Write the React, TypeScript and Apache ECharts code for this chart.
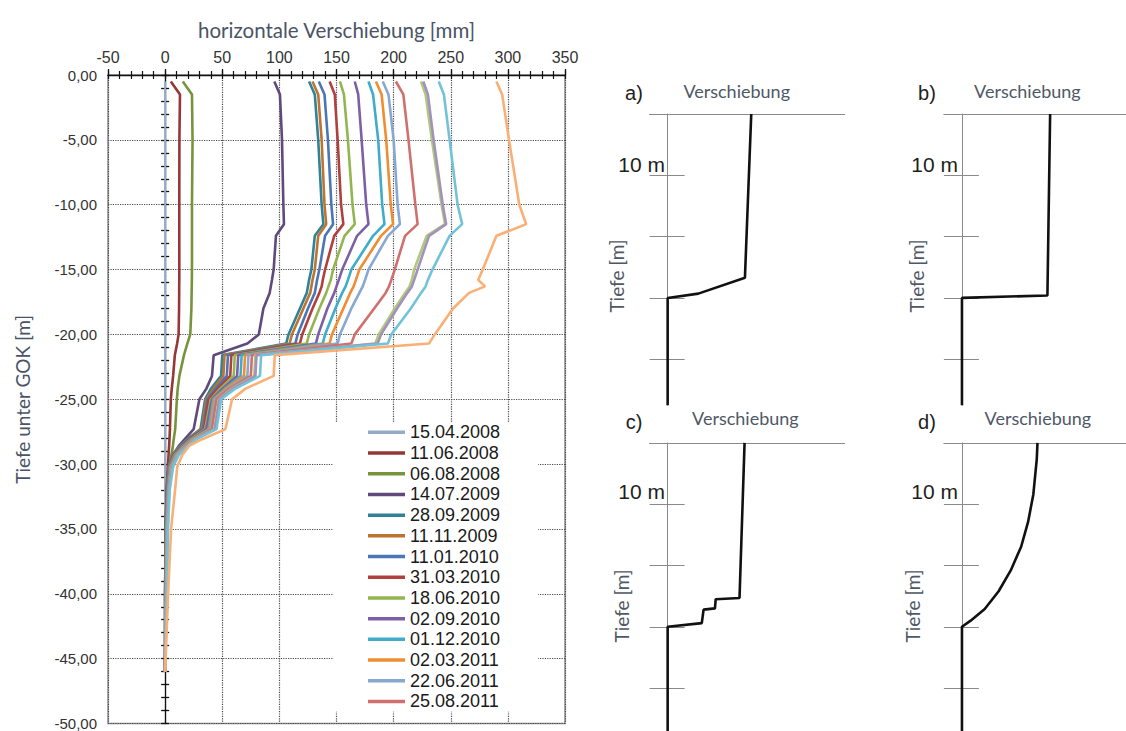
import React, { useEffect, useRef } from "react";
import * as echarts from "echarts";

// ---------- main chart data (depth in m below GOK, displacement in mm) ----------
const DEPTHS = [0.5, 1.5, 5, 10, 11.5, 12.4, 15, 15.8, 16.3, 16.8, 18, 20, 20.7, 21.6, 23.2, 24.2, 25, 27.3, 28.1, 28.6, 29.3, 30.2, 32, 35, 40, 46];

const LEGEND_DATES = ["15.04.2008", "11.06.2008", "06.08.2008", "14.07.2009", "28.09.2009", "11.11.2009", "11.01.2010", "31.03.2010", "18.06.2010", "02.09.2010", "01.12.2010", "02.03.2011", "22.06.2011", "25.08.2011"];
const EXTRA_NAMES = ["Messung 15", "Messung 16", "Messung 17", "Messung 18"];

const S_15_04_2008 = [0, 0, 0, 0, 0, 0, 0, 0, 0, 0, 0, 0, 0, 0, 0, 0, 0, 0, 0, 0, 0, 0, 0, 0, 0, 0];
const S_11_06_2008 = [5, 13, 12.5, 12.4, 12.4, 12.4, 12.4, 12.4, 12.3, 12.3, 12.2, 11.8, 10.5, 8.5, 7, 5.8, 5, 4.2, 3.8, 3.5, 3, 2.4, 1.3, 0.4, 0, 0];
const S_06_08_2008 = [15.5, 23.5, 24, 23.5, 23.5, 23.5, 23.5, 23.4, 23.3, 23.2, 23, 22, 19.5, 16.5, 12.5, 11, 10.3, 8.8, 7.5, 6.8, 5.5, 4.4, 2.5, 0.8, 0, 0];
const S_14_07_2009 = [95.6, 100.5, 102.3, 103.5, 104, 97, 95, 93.5, 92.5, 91.5, 86, 82, 72, 42.5, 41, 36, 30, 25, 17, 12, 7, 3.5, 1.5, 0.5, 0, 0];
const S_28_09_2009 = [126, 131, 134, 137, 138.5, 131, 128, 126, 125, 124, 118, 108, 106, 50, 49, 40, 35, 31, 19, 13, 6, 3, 1.5, 0.6, 0.2, 0];
const S_11_11_2009 = [129, 134, 137, 139.5, 141, 134, 131, 129, 128, 127, 121, 111, 109, 52, 51, 42, 36, 32, 19.5, 13.5, 6.5, 3.2, 1.6, 0.7, 0.2, 0];
const S_11_01_2010 = [134.5, 139.5, 142.5, 145.5, 147, 140, 135, 133, 132, 131, 125, 116, 114, 55, 54, 44, 37, 33, 20, 14, 7, 3.5, 1.8, 0.8, 0.3, 0];
const S_31_03_2010 = [144, 148.5, 151, 154, 156, 148, 140, 138, 137, 135, 129, 120, 118, 58, 57, 46, 38, 34, 21, 15, 7.5, 3.8, 2, 0.9, 0.4, 0];
const S_18_06_2010 = [153, 156.5, 160, 164, 166, 157, 147, 145, 143, 141, 135, 126, 124, 61, 60, 48, 40, 35, 22, 15.5, 8, 4, 2.2, 1, 0.5, 0];
const S_02_09_2010 = [166, 169, 172, 176, 178, 168, 155, 152, 150, 148, 142, 134, 132, 64, 63, 50, 41, 36, 23, 16, 8.5, 4.3, 2.4, 1.2, 0.6, 0];
const S_01_12_2010 = [178, 182, 186.5, 190, 192, 182, 163, 160, 158, 155, 149, 140, 138, 67, 66, 52, 42, 38, 23.5, 16.5, 9, 4.6, 2.6, 1.3, 0.7, 0];
const S_02_03_2011 = [184.5, 189.5, 193.5, 197.5, 199.5, 189, 170, 167, 165, 162, 156, 146, 144, 70, 69, 53, 43, 39, 24, 17, 9.5, 5, 2.8, 1.5, 0.8, 0];
const S_22_06_2011 = [190.5, 195.5, 200, 203.5, 205.5, 195, 178, 175, 173, 170, 163, 153, 151, 73, 72, 55, 44, 40, 25, 17.5, 10, 5.3, 3, 1.6, 0.9, 0];
const S_25_08_2011 = [202, 208.5, 213, 219, 221, 210, 201, 198, 196, 193, 183, 166, 163, 76, 75, 56, 45, 41, 25.5, 18, 10.5, 5.6, 3.2, 1.8, 1, 0];
const S_EXTRA_15 = [224, 228, 233.5, 242, 245, 229, 218, 216, 214, 210, 201, 187, 184, 79, 78, 58, 47, 43, 26, 19, 11, 6, 3.5, 2, 1.1, 0];
const S_EXTRA_16 = [226, 230, 235, 243, 246, 231, 221, 218, 216, 212, 203, 189, 186, 80, 79, 59, 47.5, 43.5, 26.5, 19, 11.5, 6.2, 3.6, 2.1, 1.2, 0];
const S_EXTRA_17 = [239.5, 244, 249, 256, 260, 249, 234, 230, 228, 224, 215, 198, 195, 84, 83, 61, 49, 45, 27, 20, 12, 7, 4, 2.5, 1.5, 0];
const S_EXTRA_18 = [290, 295, 301, 310, 316, 290, 278, 274, 280, 266, 252, 236, 231, 96, 95, 70, 58.6, 52.8, 32, 21, 15, 10.6, 8.7, 5.2, 2.6, 0];

const SERIES_VALUES = [
  S_15_04_2008, S_11_06_2008, S_06_08_2008, S_14_07_2009, S_28_09_2009, S_11_11_2009, S_11_01_2010,
  S_31_03_2010, S_18_06_2010, S_02_09_2010, S_01_12_2010, S_02_03_2011, S_22_06_2011, S_25_08_2011,
  S_EXTRA_15, S_EXTRA_16, S_EXTRA_17, S_EXTRA_18,
];
const SERIES_COLORS = [
  "#94AAC6", "#953735", "#77933C", "#5F4A7B", "#2F8299", "#BE7430", "#4A76B5", "#B0403E", "#93B550",
  "#7D60A3", "#3FADC9", "#F08C32", "#86A8D2", "#D0706E", "#AFC97A", "#A390BD", "#72C3D8", "#F9AF76",
];

// ---------- schematic panels: [displacement, depth] ----------
const SCHEME_A = [[46.3, 0], [42.8, 26.7], [17, 29.3], [0, 30], [0, 47.5]];
const SCHEME_B = [[48.8, 0], [47.3, 29.6], [0, 30], [0, 47.5]];
const SCHEME_C = [[42.6, 0], [39.8, 25.3], [26.6, 25.5], [26.2, 27], [19.9, 27.2], [18.9, 29.4], [0, 30], [0, 47]];
const SCHEME_D = [[41.8, 0], [41.4, 2.7], [39.5, 8.4], [36.6, 12.9], [32.8, 16.9], [27, 20.8], [20.3, 24.2], [12.6, 27.1], [4.8, 29], [0, 30], [0, 47]];
const SCHEME_TICKS = [0, 10, 20, 30, 40];
const PANEL_LETTERS = ["a)", "b)", "c)", "d)"];

const SANS = "'Liberation Sans', Arial, sans-serif";
const NARROW = "'Liberation Sans Narrow', 'Arial Narrow', 'Liberation Sans', sans-serif";
const SOFT = "Lato, 'Open Sans', sans-serif";
const TITLE_COLOR = "#4A5466";
const AX_GRAY = "#8a8a8a";

function buildOption() {
  const panels = [
    { grid: { left: 649.6, top: 114, width: 195, height: 291.2 }, xmax: 98, ymax: 47.5, data: SCHEME_A,
      letter: [634, 93], verb: [736.7, 90.6], ten: [665, 164.5], tiefe: [616.6, 276] },
    { grid: { left: 943.9, top: 114, width: 182.1, height: 291.2 }, xmax: 90.8, ymax: 47.5, data: SCHEME_B,
      letter: [927, 93], verb: [1027.4, 90.6], ten: [958, 164.5], tiefe: [916, 276] },
    { grid: { left: 649.6, top: 442.9, width: 195, height: 288.1 }, xmax: 98, ymax: 47, data: SCHEME_C,
      letter: [634, 422], verb: [745.4, 417.9], ten: [665, 491.7], tiefe: [621.8, 605.9] },
    { grid: { left: 943.9, top: 442.9, width: 182.1, height: 288.1 }, xmax: 90.8, ymax: 47, data: SCHEME_D,
      letter: [927, 422], verb: [1037.9, 417.9], ten: [958, 491.7], tiefe: [912.5, 605.9] },
  ];

  const grid: any[] = [
    { left: 108, top: 75, width: 457, height: 652, show: true, borderColor: "#8f8f8f", borderWidth: 1.5, backgroundColor: "transparent" },
    ...panels.map((p) => ({ ...p.grid })),
  ];

  const xAxis: any[] = [
    {
      type: "value", gridIndex: 0, position: "top", min: -50, max: 350, interval: 50,
      name: "horizontale Verschiebung [mm]", nameLocation: "middle", nameGap: 35,
      nameTextStyle: { fontFamily: SOFT, fontSize: 20.5, color: TITLE_COLOR },
      axisLine: { show: true, onZero: false, lineStyle: { color: "#111", width: 1.3 } },
      axisTick: { show: true, length: 6, lineStyle: { color: "#111", width: 1.3 } },
      axisLabel: { show: true, margin: 10, fontFamily: NARROW, fontSize: 16, color: "#333" },
      splitLine: { show: true, lineStyle: { color: "#4a4a4a", type: "dotted", width: 1.2 } },
    },
    {
      type: "value", gridIndex: 0, position: "top", min: -50, max: 350, interval: 10,
      axisLine: { show: false, onZero: false }, axisLabel: { show: false }, splitLine: { show: false },
      axisTick: { show: true, length: 4, lineStyle: { color: "#111", width: 1.2 } },
    },
    {
      type: "value", gridIndex: 0, position: "top", min: -50, max: 350, interval: 10,
      axisLine: { show: false, onZero: false }, axisLabel: { show: false }, splitLine: { show: false },
      axisTick: { show: true, inside: true, length: 4, lineStyle: { color: "#111", width: 1.2 } },
    },
    ...panels.map((p, k) => ({
      type: "value", gridIndex: k + 1, position: "top", min: -10, max: p.xmax,
      axisLine: { show: true, onZero: false, lineStyle: { color: AX_GRAY, width: 1 } },
      axisTick: { show: false }, axisLabel: { show: false }, splitLine: { show: false },
    })),
  ];

  const yAxis: any[] = [
    {
      type: "value", gridIndex: 0, position: "left", min: -50, max: 0, interval: 5,
      name: "Tiefe unter GOK [m]", nameLocation: "middle", nameRotate: 90, nameGap: 76,
      nameTextStyle: { fontFamily: SOFT, fontSize: 19, color: TITLE_COLOR },
      axisLine: { show: false, onZero: false }, axisTick: { show: false },
      axisLabel: { show: true, margin: 11, fontFamily: NARROW, fontSize: 15, color: "#333",
        formatter: (v: number) => (Math.abs(v) < 1e-9 ? 0 : v).toFixed(2).replace(".", ",") },
      splitLine: { show: true, lineStyle: { color: "#4a4a4a", type: "dotted", width: 1.2 } },
    },
    {
      type: "value", gridIndex: 0, min: -50, max: 0, interval: 1,
      axisLine: { show: true, onZero: true, onZeroAxisIndex: 0, lineStyle: { color: "#111", width: 1.3 } },
      axisTick: { show: true, length: 4, lineStyle: { color: "#111", width: 1.3 } },
      axisLabel: { show: false }, splitLine: { show: false },
    },
    {
      type: "value", gridIndex: 0, min: -50, max: 0, interval: 1,
      axisLine: { show: false, onZero: true, onZeroAxisIndex: 0 },
      axisTick: { show: true, inside: true, length: 4, lineStyle: { color: "#111", width: 1.3 } },
      axisLabel: { show: false }, splitLine: { show: false },
    },
    ...panels.map((p, k) => ({
      type: "value", gridIndex: k + 1, inverse: true, min: 0, max: p.ymax,
      axisLine: { show: true, onZero: true, onZeroAxisIndex: 3 + k, lineStyle: { color: AX_GRAY, width: 1 } },
      axisTick: { show: false }, axisLabel: { show: false }, splitLine: { show: false },
    })),
    ...panels.map((p, k) => ({
      type: "value", gridIndex: k + 1, inverse: true, min: 0, max: p.ymax, position: "left",
      axisLine: { show: false, onZero: false },
      axisTick: { show: true, inside: true, length: 35, customValues: SCHEME_TICKS, lineStyle: { color: AX_GRAY, width: 1.2 } },
      axisLabel: { show: false }, splitLine: { show: false },
    })),
  ];

  const allNames = [...LEGEND_DATES, ...EXTRA_NAMES];
  const mainSeries = SERIES_VALUES.map((vals, i) => ({
    type: "line",
    name: allNames[i],
    xAxisIndex: 0,
    yAxisIndex: 0,
    data: DEPTHS.map((d, j) => [vals[j], -d]),
    symbol: "none",
    showSymbol: false,
    color: SERIES_COLORS[i],
    lineStyle: { color: SERIES_COLORS[i], width: i === 0 ? 2 : 2.6 },
    z: 3,
  }));

  const schemeSeries = panels.map((p, k) => ({
    type: "line",
    name: "Schema " + PANEL_LETTERS[k],
    xAxisIndex: 3 + k,
    yAxisIndex: 3 + k,
    data: p.data,
    symbol: "none",
    showSymbol: false,
    clip: false,
    lineStyle: { color: "#111", width: 2.6 },
    color: "#111",
    z: 3,
  }));

  const graphic: any[] = [];
  panels.forEach((p, k) => {
    graphic.push({ type: "text", x: p.letter[0], y: p.letter[1], style: { text: PANEL_LETTERS[k], fontFamily: SANS, fontSize: 20, fill: "#1e1e1e", align: "center", verticalAlign: "middle" } });
    graphic.push({ type: "text", x: p.verb[0], y: p.verb[1], style: { text: "Verschiebung", fontFamily: SOFT, fontSize: 18, fill: "#4f5866", align: "center", verticalAlign: "middle" } });
    graphic.push({ type: "text", x: p.ten[0], y: p.ten[1], style: { text: "10 m", fontFamily: SANS, fontSize: 21, fill: "#1e1e1e", align: "right", verticalAlign: "middle" } });
    graphic.push({ type: "text", x: p.tiefe[0], y: p.tiefe[1], rotation: Math.PI / 2, style: { text: "Tiefe [m]", fontFamily: SOFT, fontSize: 19, fill: "#4f5866", align: "center", verticalAlign: "middle" } });
  });

  return {
    animation: false,
    backgroundColor: "#ffffff",
    grid,
    xAxis,
    yAxis,
    legend: {
      show: true,
      orient: "vertical",
      left: 333,
      top: 422,
      padding: [0, 38, 0, 35],
      backgroundColor: "#ffffff",
      itemWidth: 37,
      itemHeight: 3.5,
      itemGap: 0,
      icon: "rect",
      selectedMode: false,
      data: LEGEND_DATES.map((n) => ({ name: n })),
      textStyle: { fontFamily: SANS, fontSize: 18, lineHeight: 20.7, color: "#1a1a1a", padding: [0, 0, 0, 0] },
    },
    graphic,
    series: [...mainSeries, ...schemeSeries],
  };
}

export default function App() {
  const ref = useRef<HTMLDivElement>(null);
  useEffect(() => {
    document.body.style.margin = "0";
    const chart = echarts.init(ref.current as HTMLDivElement, null, { renderer: "svg" });
    chart.setOption(buildOption() as any);
    return () => chart.dispose();
  }, []);
  return (
    <div
      ref={ref}
      style={{ position: "absolute", left: 0, top: 0, width: 1126, height: 731, background: "#fff" }}
    />
  );
}
